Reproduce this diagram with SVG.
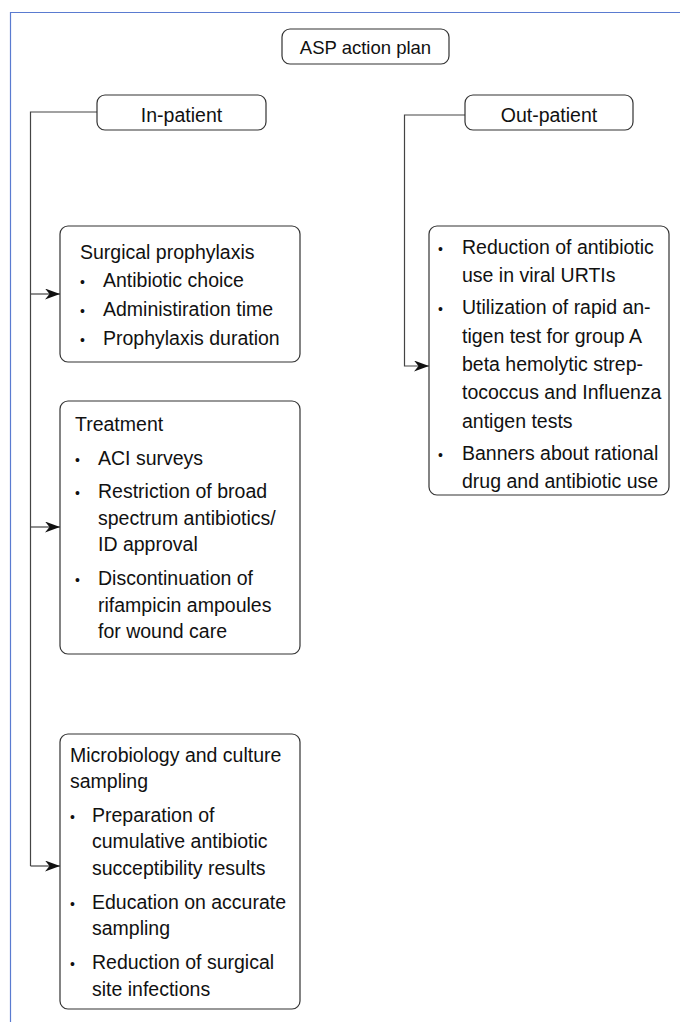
<svg xmlns="http://www.w3.org/2000/svg" width="680" height="1022" viewBox="0 0 680 1022">
<style>
.box{fill:#fff;stroke:#333;stroke-width:1.2}
.t{font-family:"Liberation Sans",Arial,sans-serif;font-size:19.5px;fill:#111}
.c{text-anchor:middle}
.b{font-family:"Liberation Sans",Arial,sans-serif;font-size:14px;fill:#111}
.ln{fill:none;stroke:#444;stroke-width:1.2}
.frame{fill:none;stroke:#5a7bd0;stroke-width:1.2}
</style>
<defs>
<marker id="ah" markerUnits="userSpaceOnUse" markerWidth="16" markerHeight="12" refX="15" refY="5.5" orient="auto">
<path d="M0,0 L15,5.5 L0,11 L4.5,5.5 z" fill="#111"/>
</marker>
</defs>
<path class="frame" d="M680,12.5 H10.5 V1022"/>
<g id="connectors">
<path class="ln" d="M97,112 H30.5 V866"/>
<path class="ln" d="M30.5,294 H60" marker-end="url(#ah)"/>
<path class="ln" d="M30.5,527 H60" marker-end="url(#ah)"/>
<path class="ln" d="M30.5,866 H60" marker-end="url(#ah)"/>
<path class="ln" d="M465,115 H404.5 V366 H429" marker-end="url(#ah)"/>
</g>
<g id="asp">
<rect class="box" x="282" y="29" width="167" height="35" rx="8"/>
<text class="t c" x="365.5" y="54" style="font-size:18.5px">ASP action plan</text>
</g>
<g id="inpatient">
<rect class="box" x="97" y="95" width="169" height="35" rx="8"/>
<text class="t c" x="181.5" y="121.5">In-patient</text>
</g>
<g id="outpatient">
<rect class="box" x="465" y="95" width="168" height="35" rx="8"/>
<text class="t c" x="549" y="121.5">Out-patient</text>
</g>
<g id="surgical">
<rect class="box" x="60" y="226" width="240" height="136" rx="8"/>
<text class="t" x="80" y="259">Surgical prophylaxis</text>
<text class="b" x="80" y="287">•</text><text class="t" x="103" y="287">Antibiotic choice</text>
<text class="b" x="80" y="316">•</text><text class="t" x="103" y="316">Administiration time</text>
<text class="b" x="80" y="345">•</text><text class="t" x="103" y="345">Prophylaxis duration</text>
</g>
<g id="treatment">
<rect class="box" x="60" y="401" width="240" height="253" rx="8"/>
<text class="t" x="75" y="431">Treatment</text>
<text class="b" x="75" y="465">•</text><text class="t" x="98" y="465">ACI surveys</text>
<text class="b" x="75" y="498">•</text><text class="t" x="98" y="498">Restriction of broad</text>
<text class="t" x="98" y="525">spectrum antibiotics/</text>
<text class="t" x="98" y="551">ID approval</text>
<text class="b" x="75" y="585">•</text><text class="t" x="98" y="585">Discontinuation of</text>
<text class="t" x="98" y="612">rifampicin ampoules</text>
<text class="t" x="98" y="638">for wound care</text>
</g>
<g id="microbiology">
<rect class="box" x="60" y="734" width="240" height="275" rx="8"/>
<text class="t" x="70" y="762">Microbiology and culture</text>
<text class="t" x="70" y="788">sampling</text>
<text class="b" x="70" y="822">•</text><text class="t" x="92" y="822">Preparation of</text>
<text class="t" x="92" y="848">cumulative antibiotic</text>
<text class="t" x="92" y="875">succeptibility results</text>
<text class="b" x="70" y="909">•</text><text class="t" x="92" y="909">Education on accurate</text>
<text class="t" x="92" y="935">sampling</text>
<text class="b" x="70" y="969">•</text><text class="t" x="92" y="969">Reduction of surgical</text>
<text class="t" x="92" y="996">site infections</text>
</g>
<g id="outlist">
<rect class="box" x="429" y="226" width="240" height="269" rx="8"/>
<text class="b" x="438" y="254">•</text><text class="t" x="462" y="254">Reduction of antibiotic</text>
<text class="t" x="462" y="282">use in viral URTIs</text>
<text class="b" x="438" y="314">•</text><text class="t" x="462" y="314">Utilization of rapid an-</text>
<text class="t" x="462" y="343">tigen test for group A</text>
<text class="t" x="462" y="371">beta hemolytic strep-</text>
<text class="t" x="462" y="399">tococcus and Influenza</text>
<text class="t" x="462" y="428">antigen tests</text>
<text class="b" x="438" y="460">•</text><text class="t" x="462" y="460">Banners about rational</text>
<text class="t" x="462" y="488">drug and antibiotic use</text>
</g>
</svg>
